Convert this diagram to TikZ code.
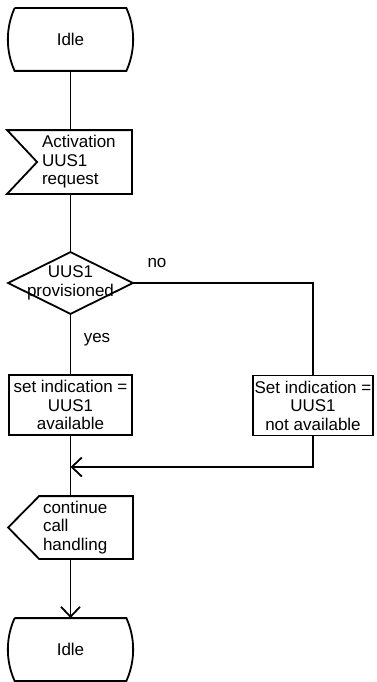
\documentclass[tikz,border=0pt]{standalone}
\usepackage{fontspec}
\setmainfont{Liberation Sans}
\usetikzlibrary{arrows.meta}

\begin{document}
\begin{tikzpicture}[x=1pt, y=-1pt,
    >={Straight Barb[length=10pt,width=19pt]},   % offene Pfeilspitze
    font=\fontsize{17}{18.5}\selectfont,
    line width=1.8pt,
    idle/.style={minimum width=110pt, minimum height=61pt, inner sep=0pt,
      append after command={\pgfextra{\let\sdlnode\tikzlastnode
        \draw (\sdlnode.north west) -- (\sdlnode.north east)
          .. controls +(9pt,-20pt) and +(9pt,20pt) .. (\sdlnode.south east)
          -- (\sdlnode.south west)
          .. controls +(-9pt,20pt) and +(-9pt,-20pt) .. (\sdlnode.north west);}}},
    insig/.style={text width=85pt, inner xsep=4pt, inner ysep=0pt,
      minimum height=62pt, align=left,
      append after command={\pgfextra{\let\sdlnode\tikzlastnode
        \draw ([xshift=-30pt]\sdlnode.north west) -- (\sdlnode.north east)
          -- (\sdlnode.south east) -- ([xshift=-30pt]\sdlnode.south west)
          -- (\sdlnode.west) -- cycle;}}},
    outsig/.style={text width=86pt, inner xsep=3pt, inner ysep=0pt,
      minimum height=61pt, align=left,
      append after command={\pgfextra{\let\sdlnode\tikzlastnode
        \draw (\sdlnode.north west) -- (\sdlnode.north east)
          -- (\sdlnode.south east) -- (\sdlnode.south west)
          -- ([xshift=-31pt]\sdlnode.west) -- cycle;}}},
    decision/.style={minimum width=123pt, minimum height=60pt, inner sep=0pt,
      align=center,
      append after command={\pgfextra{\let\sdlnode\tikzlastnode
        \draw (\sdlnode.north) -- (\sdlnode.east) -- (\sdlnode.south)
          -- (\sdlnode.west) -- cycle;}}},
    task/.style={draw, minimum width=123pt, minimum height=60pt, inner sep=0pt,
      align=center}]
    % Bildbereich
    \useasboundingbox (0,0) rectangle (377,682);
    % Symbole
    \node[idle] (idle1) at (70.5,39.5) {Idle};
    \node[insig] (req) at (84.5,162) {Activation\\UUS1\\request};
    \node[decision] (prov) at (70.5,283) {UUS1\\provisioned};
    \node[task] (avail) at (70.5,405) {set indication =\\UUS1\\available};
    \node[task, minimum width=120pt] (notavail) at (313,405.5) {Set indication =\\UUS1\\not available};
    \coordinate (join) at (70.5,467);
    \node[outsig] (cont) at (86,527.5) {continue\\call\\handling};
    \node[idle] (idle2) at (70.5,649.5) {Idle};
    % Beschriftung
    \node (no) at (157,263) {no};
    \node (yes) at (97,340) {yes};
    % Verbindungen
    \draw (idle1.south) -- (idle1.south |- req.north);
    \draw (idle1.south |- req.south) -- (prov.north);
    \draw (prov.east) -| (notavail.north);
    \draw (prov.south) -- (avail.north);
    \draw[->] (notavail.south) |- (join);
    \draw (avail.south) -- (avail.south |- cont.north);
    \draw[->] (idle2.north |- cont.south) -- (idle2.north);
\end{tikzpicture}
\end{document}
